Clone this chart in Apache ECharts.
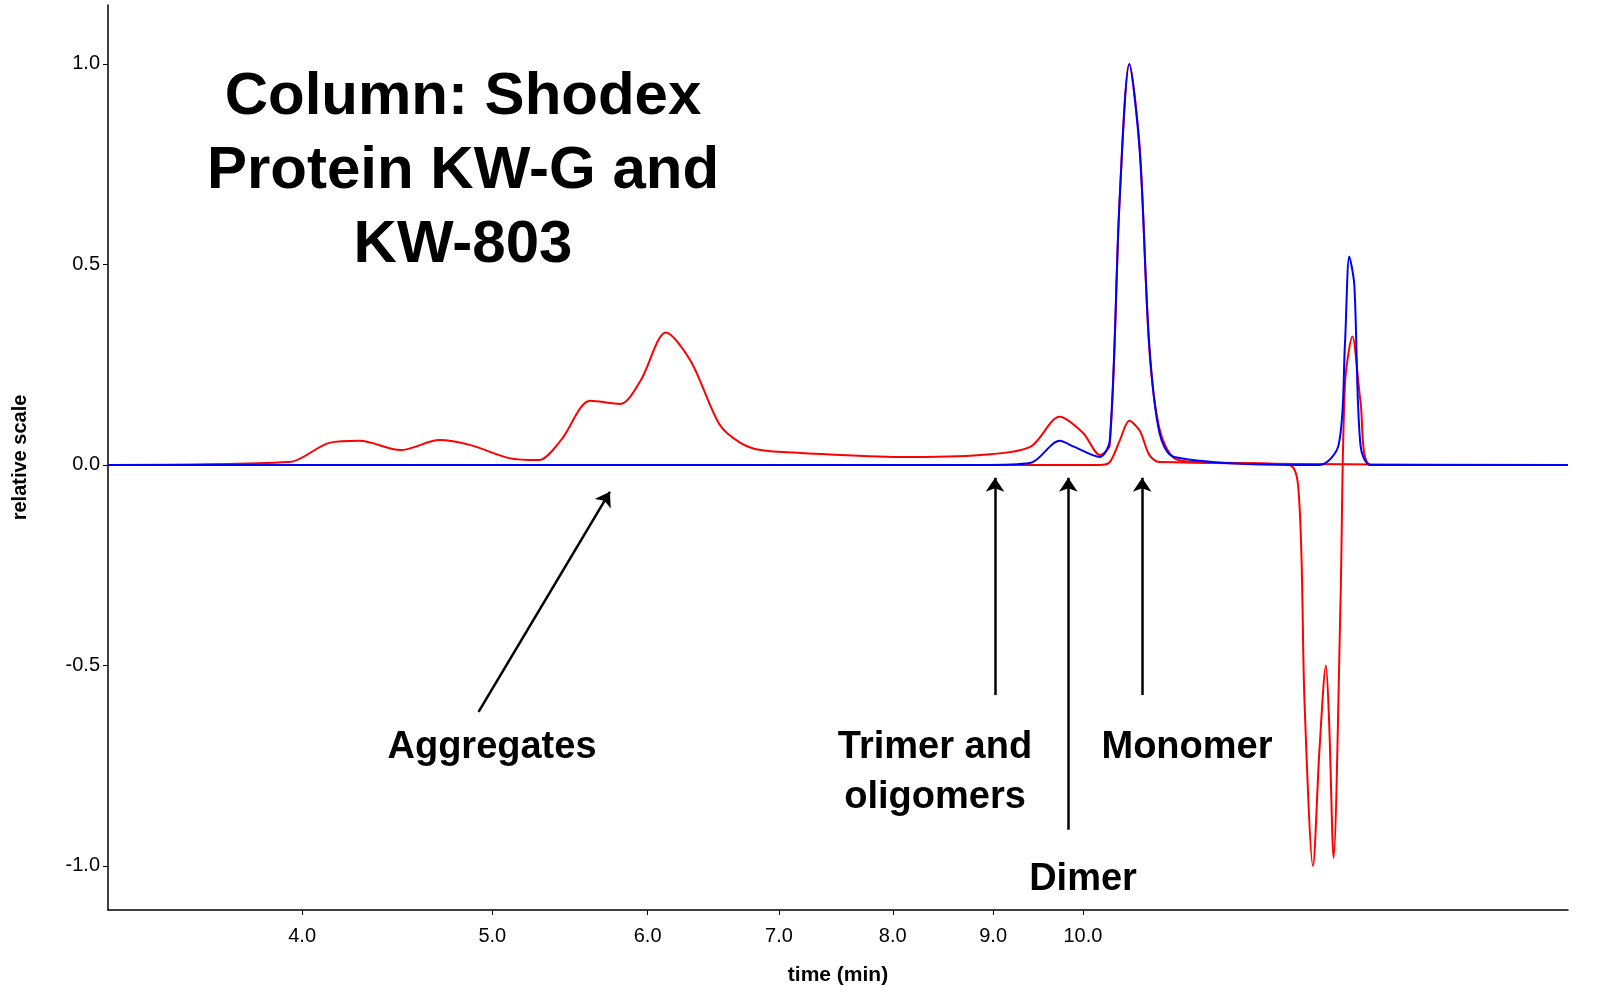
<!DOCTYPE html>
<html><head><meta charset="utf-8">
<script src="https://cdn.jsdelivr.net/npm/echarts@6/dist/echarts.min.js"></script>
<style>html,body{margin:0;background:#fff}#main{width:1604px;height:1003px}</style>
</head><body><div id="main"></div>
<script>
// time (min) / relative scale
var redT = [3.185,3.94,4.13,4.28,4.49,4.70,4.87,5.10,5.28,5.42,5.61,5.81,5.95,6.13,6.31,6.53,6.69,6.85,7.18,8.07,8.87,9.40,9.73,10.0,10.2,10.32,10.44,10.56,10.69,10.81,10.94,11.13,11.46,12.74,12.89,12.97,13.1,13.2,13.3,13.35,13.42,13.53,13.6,13.72,13.85,14.02,17.67];
var redV = [0,0.007,0.055,0.06,0.037,0.062,0.05,0.017,0.012,0.062,0.16,0.152,0.21,0.33,0.26,0.10,0.055,0.037,0.03,0.02,0.025,0.045,0.12,0.08,0.025,0.05,0.66,1.0,0.79,0.29,0.09,0.017,0.007,0,-0.09,-0.59,-1.0,-0.71,-0.5,-0.64,-0.98,-0.34,0.2,0.32,0.16,0,0];
var red2T = [3.185,10.2,10.32,10.44,10.56,10.69,10.81,10.94,17.67];
var red2V = [0,0,0.007,0.06,0.11,0.085,0.025,0.007,0];
var blueT = [3.185,8.87,9.40,9.73,9.9,10.2,10.32,10.44,10.56,10.69,10.81,10.94,11.13,13.2,13.5,13.6,13.67,13.75,13.85,14.02,17.67];
var blueV = [0,0,0.005,0.06,0.045,0.02,0.06,0.66,1.0,0.78,0.3,0.08,0.02,0,0.05,0.3,0.52,0.45,0.05,0,0];
var xTicks = [4,5,6,7,8,9,10];
var yTicks = [-1,-0.5,0,0.5,1];

function pts(t, v) { return t.map(function (x, i) { return [Math.log(x), v[i]]; }); }
var L = Math.log;
var font = 'Liberation Sans, Arial, sans-serif';

var chart = echarts.init(document.getElementById('main'));
chart.setOption({
    animation: false,
    grid: {left: 108, right: 36, top: 5, bottom: 93},
    xAxis: {
        type: 'value', min: L(3.185), max: L(17.67),
        axisLine: {onZero: false, lineStyle: {color: '#000', width: 1.5}},
        splitLine: {show: false},
        axisTick: {customValues: xTicks.map(L), length: 5, lineStyle: {color: '#000'}},
        axisLabel: {customValues: xTicks.map(L), color: '#000', fontSize: 20, fontFamily: font, margin: 16,
            formatter: function (v) { return Math.exp(v).toFixed(1); }},
        name: 'time (min)', nameLocation: 'middle', nameGap: 55,
        nameTextStyle: {fontSize: 21, fontWeight: 'bold', color: '#000', fontFamily: font}
    },
    yAxis: {
        type: 'value', min: -1.11, max: 1.147,
        axisLine: {show: true, lineStyle: {color: '#000', width: 1.5}},
        splitLine: {show: false},
        axisTick: {customValues: yTicks, length: 5, lineStyle: {color: '#000'}},
        axisLabel: {customValues: yTicks, color: '#000', fontSize: 20, fontFamily: font,
            formatter: function (v) { return v.toFixed(1); }},
        name: 'relative scale', nameLocation: 'middle', nameGap: 78,
        nameTextStyle: {fontSize: 20, fontWeight: 'bold', color: '#000', fontFamily: font}
    },
    series: [
        {type: 'line', data: pts(red2T, red2V), showSymbol: false, smooth: 0.3, lineStyle: {color: '#ff0000', width: 2}},
        {type: 'line', data: pts(redT, redV), showSymbol: false, smooth: 0.3, lineStyle: {color: '#ff0000', width: 2},
            markLine: {
                silent: true, symbol: ['none', 'arrow'], symbolSize: 14,
                lineStyle: {color: '#000', width: 2.5, type: 'solid'}, label: {show: false},
                data: [
                    [{coord: [L(4.92), -0.616]}, {coord: [L(5.74), -0.067]}],
                    [{coord: [L(9.02), -0.574]}, {coord: [L(9.02), -0.032]}],
                    [{coord: [L(9.83), -0.91]}, {coord: [L(9.83), -0.032]}],
                    [{coord: [L(10.72), -0.574]}, {coord: [L(10.72), -0.032]}]
                ]
            }},
        {type: 'line', data: pts(blueT, blueV), showSymbol: false, smooth: 0.3, lineStyle: {color: '#0000ff', width: 2}}
    ],
    graphic: [
        {type: 'text', x: 463, y: 97, style: {text: 'Column: Shodex', font: 'bold 60px ' + font, fill: '#000', textAlign: 'center', textVerticalAlign: 'middle'}},
        {type: 'text', x: 463, y: 171, style: {text: 'Protein KW-G and', font: 'bold 60px ' + font, fill: '#000', textAlign: 'center', textVerticalAlign: 'middle'}},
        {type: 'text', x: 463, y: 245, style: {text: 'KW-803', font: 'bold 60px ' + font, fill: '#000', textAlign: 'center', textVerticalAlign: 'middle'}},
        {type: 'text', x: 492, y: 748, style: {text: 'Aggregates', font: 'bold 38px ' + font, fill: '#000', textAlign: 'center', textVerticalAlign: 'middle'}},
        {type: 'text', x: 935, y: 748, style: {text: 'Trimer and', font: 'bold 38px ' + font, fill: '#000', textAlign: 'center', textVerticalAlign: 'middle'}},
        {type: 'text', x: 935, y: 798, style: {text: 'oligomers', font: 'bold 38px ' + font, fill: '#000', textAlign: 'center', textVerticalAlign: 'middle'}},
        {type: 'text', x: 1187, y: 748, style: {text: 'Monomer', font: 'bold 38px ' + font, fill: '#000', textAlign: 'center', textVerticalAlign: 'middle'}},
        {type: 'text', x: 1083, y: 880, style: {text: 'Dimer', font: 'bold 38px ' + font, fill: '#000', textAlign: 'center', textVerticalAlign: 'middle'}}
    ]
});
</script>
</body></html>
